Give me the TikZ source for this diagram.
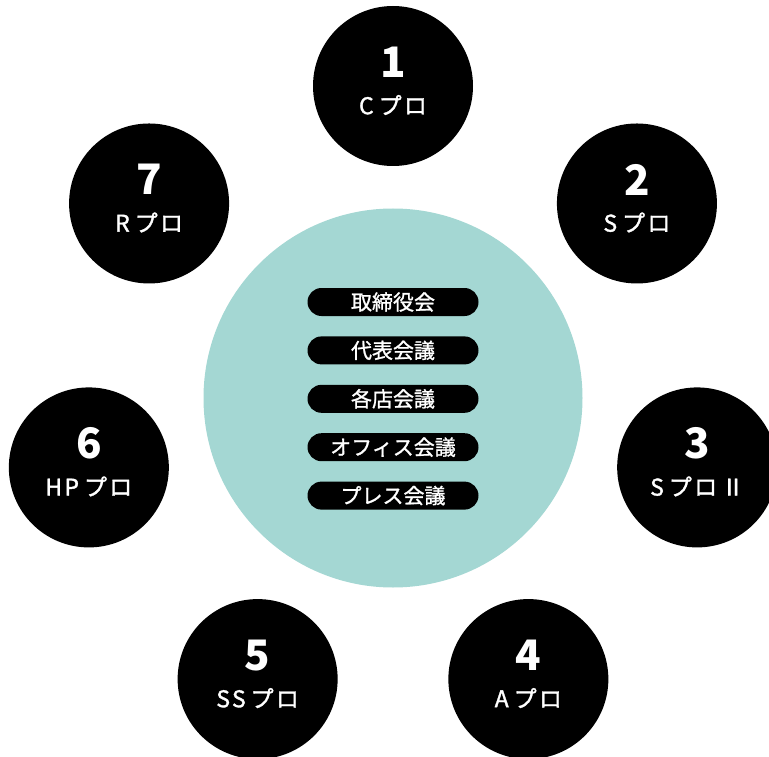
\documentclass[tikz,border=0pt]{standalone}
\usepackage{fontspec}
\setmainfont{Noto Sans CJK JP}
\newfontfamily\jpfont[FakeBold=1.2]{Noto Sans CJK JP}
\newfontfamily\jplabel[LetterSpace=10,FakeBold=1.4]{Noto Sans CJK JP}
\usetikzlibrary{positioning}
\definecolor{hubteal}{RGB}{164,215,211}

\tikzset{
  hubcircle/.style={circle, fill=hubteal, minimum size=379pt, inner sep=0pt},
  pro/.style={circle, fill=black, minimum size=160pt, inner sep=0pt},
  pronum/.style={text=white, inner sep=0pt, font=\bfseries\fontsize{42}{42}\selectfont},
  prolabel/.style={text=white, inner sep=0pt, font=\jplabel\fontsize{23}{23}\selectfont},
  meeting/.style={fill=black, text=white, rounded corners=14pt,
    minimum width=171pt, minimum height=28pt, inner sep=0pt,
    font=\jpfont\fontsize{21}{21}\selectfont}
}

\begin{document}
\begin{tikzpicture}[x=1pt,y=1pt]
	\useasboundingbox (0,0) rectangle (769,-757);
	\clip (0,0) rectangle (769,-757);
	\node[hubcircle] (hub) at (393,-398) {};
	% seven projects round the hub
	\foreach \n/\txt [count=\i from 0] in {1/C\kern5ptプロ, 2/S\kern5ptプロ, 3/S\kern5ptプロ\kern4ptⅡ, 4/A\kern5ptプロ, 5/SS\kern5ptプロ, 6/HP\kern5ptプロ, 7/R\kern5ptプロ}{
		\node[pro] (p\n) at ([shift={({90-360/7*\i}:312pt)}]hub) {};
		\node[pronum] (p\n-num) at ([yshift=24pt]p\n) {\n};
		\node[prolabel] (p\n-lab) at ([yshift=-19pt]p\n) {\txt};
	}
	% meetings
	\node[meeting] (m1) at ([yshift=96pt]hub) {取締役会};
	\node[meeting, below=20pt of m1] (m2) {代表会議};
	\node[meeting, below=20pt of m2] (m3) {各店会議};
	\node[meeting, below=20pt of m3] (m4) {オフィス会議};
	\node[meeting, below=20pt of m4] (m5) {プレス会議};
\end{tikzpicture}
\end{document}
